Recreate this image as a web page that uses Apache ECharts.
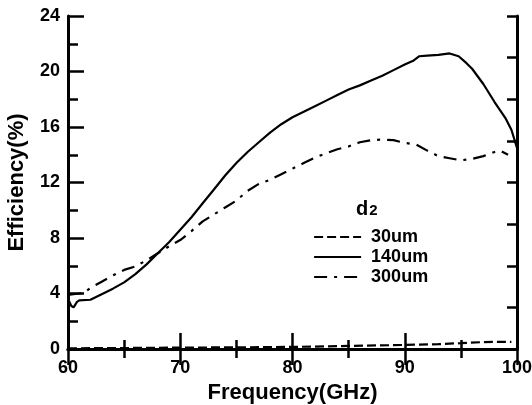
<!DOCTYPE html>
<html>
<head>
<meta charset="utf-8">
<script src="https://cdn.jsdelivr.net/npm/echarts@6/dist/echarts.min.js"></script>
<style>
  html, body { margin: 0; padding: 0; background: #fff; }
  #main { width: 532px; height: 405px; }
</style>
</head>
<body>
<div id="main"></div>
<script>
// d2 = 30um (dashed)
var freq30 = [60, 65, 70, 75, 80, 85, 90, 93, 95, 97, 99.5];
var eff30 = [0.05, 0.07, 0.1, 0.12, 0.15, 0.22, 0.29, 0.35, 0.42, 0.5, 0.52];

// d2 = 140um (solid)
var freq140 = [60, 60.3, 60.5, 60.8, 61, 62, 63, 64, 65, 66, 67, 68, 69, 70, 71, 72, 73, 74, 75, 76, 77, 78, 79, 80,
  81, 82, 83, 84, 85, 86, 87, 88, 89, 90, 90.8, 91.3, 92, 93, 94, 94.8, 95.5, 96, 97, 98, 99, 99.5, 100];
var eff140 = [3.6, 3.1, 3.0, 3.4, 3.5, 3.55, 3.95, 4.35, 4.8, 5.4, 6.1, 6.9, 7.7, 8.6, 9.5, 10.5, 11.5, 12.5, 13.4, 14.2, 14.9, 15.6, 16.2, 16.7,
  17.1, 17.5, 17.9, 18.3, 18.7, 19.0, 19.35, 19.7, 20.1, 20.5, 20.8, 21.1, 21.15, 21.2, 21.3, 21.1, 20.6, 20.2, 19.1, 17.8, 16.6, 15.8, 14.5];

// d2 = 300um (dash-dot)
var freq300 = [60, 61, 61.5, 62, 63, 64, 65, 66, 67, 68, 69, 70, 71, 72, 73, 74, 75, 76, 77, 78, 79, 80,
  81, 82, 83, 84, 85, 86, 87, 88, 89, 90, 91, 92, 93, 94, 95, 96, 97, 98, 98.5, 99.2];
var eff300 = [3.9, 4.0, 4.1, 4.4, 4.85, 5.3, 5.7, 5.95, 6.4, 6.9, 7.4, 7.85, 8.5, 9.2, 9.7, 10.2, 10.7, 11.4, 11.9, 12.2, 12.6, 13.0,
  13.4, 13.8, 14.1, 14.4, 14.6, 14.9, 15.05, 15.1, 15.05, 14.85, 14.75, 14.3, 13.9, 13.75, 13.6, 13.7, 13.9, 14.2, 14.3, 14.0];

var seriesNames = ['30um', '140um', '300um'];

function pairs(xs, ys) {
  return xs.map(function (x, i) { return [x, ys[i]]; });
}

var font = 'Liberation Sans';
var axisLineStyle = { color: '#000', width: 3 };

var chart = echarts.init(document.getElementById('main'));
chart.setOption({
  animation: false,
  backgroundColor: '#fff',
  grid: { left: 68, right: 15, top: 16, bottom: 56, containLabel: false, outerBoundsMode: 'none' },
  title: {
    text: '{d|d}{s|2}',
    left: 356,
    top: 199,
    padding: 0,
    textStyle: {
      rich: {
        d: { fontFamily: font, fontWeight: 'bold', fontSize: 20, color: '#000' },
        s: { fontFamily: font, fontWeight: 'bold', fontSize: 15, color: '#000', padding: [3, 0, 0, 1] }
      }
    }
  },
  legend: {
    data: seriesNames,
    orient: 'vertical',
    left: 313,
    top: 228,
    padding: 0,
    itemWidth: 47,
    itemHeight: 14,
    itemGap: 2,
    itemStyle: { opacity: 0 },
    lineStyle: { width: 2.2 },
    textStyle: { fontFamily: font, fontWeight: 'bold', fontSize: 18, lineHeight: 14, color: '#000', padding: [0, 0, 0, 5] }
  },
  xAxis: [{
    type: 'value',
    min: 60,
    max: 100,
    interval: 10,
    name: 'Frequency(GHz)',
    nameLocation: 'middle',
    nameGap: 31,
    nameTextStyle: { fontFamily: font, fontWeight: 'bold', fontSize: 22, color: '#000' },
    axisLine: { lineStyle: axisLineStyle },
    axisTick: { inside: true, length: 16, lineStyle: { color: '#000', width: 2.5 } },
    minorTick: { show: true, splitNumber: 2, length: 9, lineStyle: { color: '#000', width: 2.5 } },
    axisLabel: { margin: 10, fontFamily: font, fontWeight: 'bold', fontSize: 18, color: '#000' },
    splitLine: { show: false }
  }, {
    type: 'value',
    position: 'top',
    min: 60,
    max: 100,
    interval: 10,
    axisLine: { lineStyle: axisLineStyle },
    axisTick: { inside: true, length: 16, lineStyle: { color: '#000', width: 2.5 } },
    minorTick: { show: true, splitNumber: 2, length: 9, lineStyle: { color: '#000', width: 2.5 } },
    axisLabel: { show: false },
    splitLine: { show: false }
  }],
  yAxis: [{
    type: 'value',
    min: 0,
    max: 24,
    interval: 4,
    name: 'Efficiency(%)',
    nameLocation: 'middle',
    nameGap: 40,
    nameTextStyle: { fontFamily: font, fontWeight: 'bold', fontSize: 22, color: '#000' },
    axisLine: { lineStyle: axisLineStyle },
    axisTick: { inside: true, length: 16, lineStyle: { color: '#000', width: 2.5 } },
    minorTick: { show: true, splitNumber: 2, length: 10, lineStyle: { color: '#000', width: 2.5 } },
    axisLabel: { margin: 8, fontFamily: font, fontWeight: 'bold', fontSize: 18, color: '#000' },
    splitLine: { show: false }
  }, {
    type: 'value',
    position: 'right',
    min: 0,
    max: 24,
    interval: 3,
    axisLine: { show: true, lineStyle: axisLineStyle },
    axisTick: { show: true, inside: true, length: 10, lineStyle: { color: '#000', width: 2.5 } },
    axisLabel: { show: false },
    splitLine: { show: false }
  }],
  series: [{
    name: '30um',
    type: 'line',
    symbol: 'none',
    data: pairs(freq30, eff30),
    lineStyle: { color: '#000', width: 2.2, type: [9, 4] },
    itemStyle: { color: '#000' },
    z: 3
  }, {
    name: '140um',
    type: 'line',
    symbol: 'none',
    data: pairs(freq140, eff140),
    lineStyle: { color: '#000', width: 2.2, type: 'solid' },
    itemStyle: { color: '#000' }
  }, {
    name: '300um',
    type: 'line',
    symbol: 'none',
    data: pairs(freq300, eff300),
    lineStyle: { color: '#000', width: 2.2, type: [13, 7, 3, 7] },
    itemStyle: { color: '#000' }
  }]
});
</script>
</body>
</html>
